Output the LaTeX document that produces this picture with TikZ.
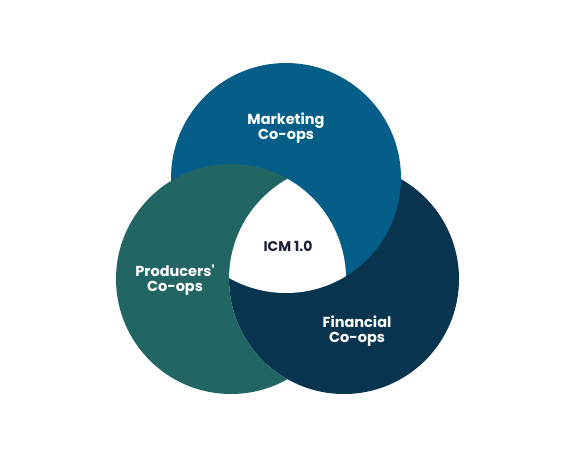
\documentclass[tikz,border=0pt]{standalone}
\usepackage{fontspec}
\setmainfont{Poppins}
\newfontfamily\popplain{Poppins}
\definecolor{mktblue}{RGB}{4,94,135}
\definecolor{prodteal}{RGB}{34,102,100}
\definecolor{finnavy}{RGB}{8,52,80}
\definecolor{icmtext}{RGB}{26,31,58}
\begin{document}
\begin{tikzpicture}[x=1pt,y=-1pt,
  lbl/.style={text=white,font=\bfseries\fontsize{14.5}{15.5}\selectfont,align=center,inner sep=0pt},
  core/.style={text=icmtext,font=\bfseries\fontsize{14}{15}\selectfont,inner sep=0pt}]
\useasboundingbox (0,0) rectangle (575,459);
\def\R{115}
\coordinate (M) at (286,178);
\coordinate (P) at (231,279);
\coordinate (F) at (344,279);
% Financial below Marketing
\fill[finnavy] (F) circle (\R);
\fill[mktblue] (M) circle (\R);
% Producers: over Marketing, under Financial
\begin{scope}
  \clip (P) circle (\R);
  \fill[prodteal, even odd rule] (P) circle (\R+2) (F) circle (\R);
\end{scope}
% centre
\begin{scope}\clip (M) circle (\R); \clip (P) circle (\R); \fill[white] (F) circle (\R); \end{scope}
% labels
\node[lbl] (mkt) at (286,128) {Marketing\\Co-ops};
\node[lbl] (prod) at (175,280) {Producers{\popplain\bfseries '}\\Co-ops};
\node[lbl] (fin) at (357,331) {Financial\\Co-ops};
\node[core] (icm) at (288,246) {ICM 1.0};
\end{tikzpicture}
\end{document}
